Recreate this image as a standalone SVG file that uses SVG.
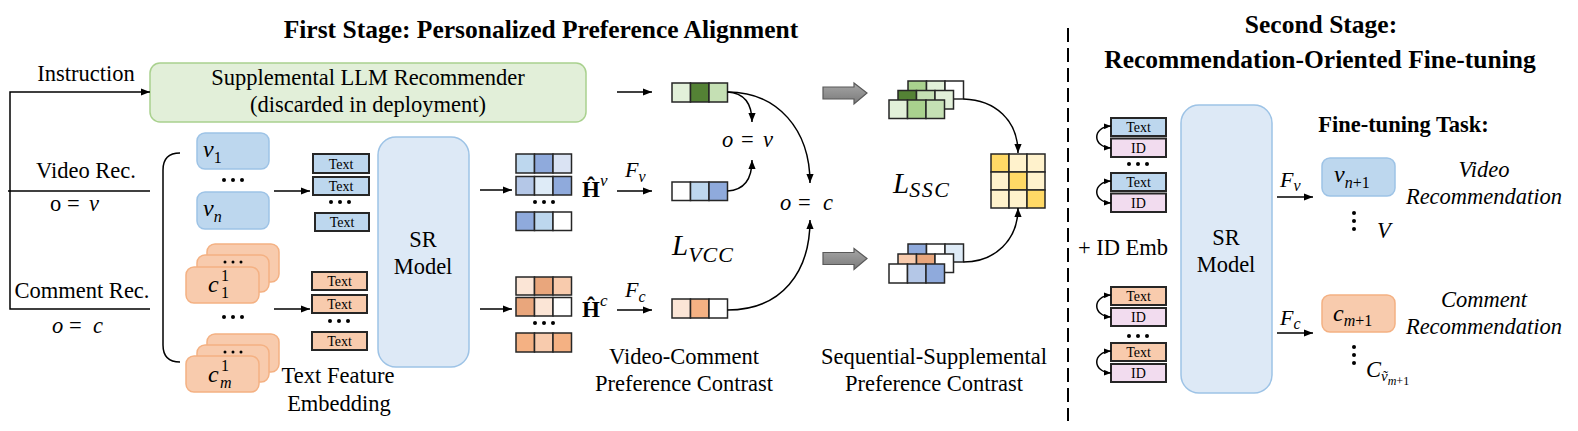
<svg xmlns="http://www.w3.org/2000/svg" width="1578" height="431" viewBox="0 0 1578 431">
<defs>
<marker id="ah" viewBox="0 0 10 8" refX="10" refY="4" markerWidth="9" markerHeight="7.5" markerUnits="userSpaceOnUse" orient="auto-start-reverse"><path d="M0,0 L10,4 L0,8 z" fill="#000"/></marker>
<marker id="ahs" viewBox="0 0 10 8" refX="10" refY="4" markerWidth="7" markerHeight="6" markerUnits="userSpaceOnUse" orient="auto-start-reverse"><path d="M0,0 L10,4 L0,8 z" fill="#000"/></marker>
<linearGradient id="gray" x1="0" y1="0" x2="0" y2="1"><stop offset="0" stop-color="#a6a6a6"/><stop offset="1" stop-color="#7a7a7a"/></linearGradient>
</defs>
<style>
text{font-family:"Liberation Serif","Times New Roman",serif;fill:#000}
.t22{font-size:22.5px}
.m24{font-size:24px;font-style:italic}
.ttl{font-size:25.5px;font-weight:bold}
.it{font-style:italic}
.c{text-anchor:middle}
.sm{font-size:14px}
.ln{fill:none;stroke:#000;stroke-width:1.5}
.cell{stroke:#262626;stroke-width:1.5}
.tb{stroke:#262626;stroke-width:2}
.vbox{fill:#bdd7ee;stroke:#9dc3e6;stroke-width:1.5}
.cbox{fill:#f8cbad;stroke:#f4b183;stroke-width:1.5}
.sr{fill:#dde9f6;stroke:#9dc3e6;stroke-width:1.5}
.llm{fill:#e2efd9;stroke:#a9d18e;stroke-width:1.5}
.blk{fill:url(#gray);stroke:#595959;stroke-width:1.2}
.dot{fill:#000}
.b1{fill:#bdd7ee}.b2{fill:#8faadc}.b3{fill:#deebf7}.b4{fill:#b4c7e7}
.o1{fill:#fbe5d6}.o2{fill:#f4b183}.o3{fill:#f8cbad}.o4{fill:#e9a67c}
.g1{fill:#e2f0d9}.g2{fill:#548235}.g3{fill:#c5e0b4}.g4{fill:#a9d18e}
.w{fill:#ffffff}.y1{fill:#ffd966}.y2{fill:#fff2cc}
.pk{fill:#f2dcef}
</style>

<g id="titles">
<text x="541" y="38" class="ttl c">First Stage: Personalized Preference Alignment</text>
<text x="1321" y="33" class="ttl c">Second Stage:</text>
<text x="1320" y="68" class="ttl c">Recommendation-Oriented Fine-tuning</text>
</g>

<g id="divider">
<path d="M1068,28 V421" fill="none" stroke="#000" stroke-width="2" stroke-dasharray="14 6"/>
</g>

<g id="inputs">
<text x="86" y="81" class="t22 c">Instruction</text>
<text x="86" y="178" class="t22 c">Video Rec.</text>
<text y="211" class="t22"><tspan x="50">o</tspan><tspan x="67">=</tspan><tspan x="89" class="it">v</tspan></text>
<text x="82" y="298" class="t22 c">Comment Rec.</text>
<text y="333" class="t22 it"><tspan x="52">o</tspan><tspan x="69" font-style="normal">=</tspan><tspan x="93">c</tspan></text>
</g>

<g id="llm">
<rect x="150" y="63" width="436" height="59" rx="10" class="llm"/>
<text x="368" y="85" class="t22 c">Supplemental LLM Recommender</text>
<text x="368" y="112" class="t22 c">(discarded in deployment)</text>
</g>

<g id="items">
<path d="M180,153 Q163,153 163,170 L163,345 Q163,362 180,362" class="ln"/>
<rect x="197" y="133" width="72" height="36" rx="8" class="vbox"/>
<text x="203" y="157" class="m24">v<tspan font-size="16" dy="6" font-style="normal">1</tspan></text>
<circle cx="224" cy="180" r="2" class="dot"/><circle cx="233" cy="180" r="2" class="dot"/><circle cx="242" cy="180" r="2" class="dot"/>
<rect x="197" y="192" width="72" height="37" rx="8" class="vbox"/>
<text x="203" y="216" class="m24">v<tspan font-size="16" dy="6">n</tspan></text>

<rect x="207" y="244" width="72" height="38" rx="8" class="cbox"/>
<rect x="197" y="255" width="72" height="37" rx="8" class="cbox"/>
<circle cx="225" cy="262" r="1.5" class="dot"/><circle cx="233" cy="262" r="1.5" class="dot"/><circle cx="241" cy="262" r="1.5" class="dot"/>
<rect x="186" y="267" width="73" height="36" rx="8" class="cbox"/>
<text x="208" y="292" class="m24">c</text>
<text x="221" y="281" font-size="16">1</text>
<text x="221" y="298" font-size="16">1</text>
<circle cx="224" cy="317" r="2" class="dot"/><circle cx="233" cy="317" r="2" class="dot"/><circle cx="242" cy="317" r="2" class="dot"/>
<rect x="207" y="334" width="72" height="38" rx="8" class="cbox"/>
<rect x="197" y="345" width="72" height="37" rx="8" class="cbox"/>
<circle cx="225" cy="352" r="1.5" class="dot"/><circle cx="233" cy="352" r="1.5" class="dot"/><circle cx="241" cy="352" r="1.5" class="dot"/>
<rect x="186" y="356" width="73" height="36" rx="8" class="cbox"/>
<text x="208" y="382" class="m24">c</text>
<text x="221" y="371" font-size="16">1</text>
<text x="220" y="388" font-size="16" class="it">m</text>
</g>

<g id="text-embedding">
<rect x="313" y="154" width="56" height="19" class="tb b1"/><text x="341" y="169" class="sm c">Text</text>
<rect x="313" y="177" width="56" height="18" class="tb b1"/><text x="341" y="191" class="sm c">Text</text>
<circle cx="331" cy="202" r="2" class="dot"/><circle cx="340" cy="202" r="2" class="dot"/><circle cx="349" cy="202" r="2" class="dot"/>
<rect x="315" y="213" width="54" height="18" class="tb b1"/><text x="342" y="227" class="sm c">Text</text>
<rect x="312" y="272" width="55" height="18" class="tb o3"/><text x="339.5" y="286" class="sm c">Text</text>
<rect x="312" y="295" width="55" height="18" class="tb o3"/><text x="339.5" y="309" class="sm c">Text</text>
<circle cx="330" cy="321" r="2" class="dot"/><circle cx="339" cy="321" r="2" class="dot"/><circle cx="348" cy="321" r="2" class="dot"/>
<rect x="312" y="332" width="55" height="18" class="tb o3"/><text x="339.5" y="346" class="sm c">Text</text>
<text x="338" y="383" class="t22 c">Text Feature</text>
<text x="339" y="411" class="t22 c">Embedding</text>
</g>

<g id="sr-model-1">
<rect x="378" y="137" width="91" height="230" rx="18" class="sr"/>
<text x="423" y="247" class="t22 c">SR</text>
<text x="423" y="274" class="t22 c">Model</text>
</g>

<g id="seq-emb">
<rect x="516" y="154" width="18.5" height="19" class="cell b1"/><rect x="534.5" y="154" width="18.5" height="19" class="cell b2"/><rect x="553" y="154" width="18.5" height="19" class="cell" fill="#dae3f3"/>
<rect x="516" y="176.5" width="18.5" height="18.5" class="cell b4"/><rect x="534.5" y="176.5" width="18.5" height="18.5" class="cell b3"/><rect x="553" y="176.5" width="18.5" height="18.5" class="cell b2"/>
<circle cx="535" cy="202" r="2" class="dot"/><circle cx="544" cy="202" r="2" class="dot"/><circle cx="553" cy="202" r="2" class="dot"/>
<rect x="516" y="212" width="18.5" height="18.5" class="cell b2"/><rect x="534.5" y="212" width="18.5" height="18.5" class="cell b1"/><rect x="553" y="212" width="18.5" height="18.5" class="cell w"/>
<rect x="516" y="277" width="18.5" height="18" class="cell o1"/><rect x="534.5" y="277" width="18.5" height="18" class="cell o4"/><rect x="553" y="277" width="18.5" height="18" class="cell o3"/>
<rect x="516" y="297.5" width="18.5" height="18.5" class="cell o4"/><rect x="534.5" y="297.5" width="18.5" height="18.5" class="cell o1"/><rect x="553" y="297.5" width="18.5" height="18.5" class="cell w"/>
<circle cx="535" cy="323" r="2" class="dot"/><circle cx="544" cy="323" r="2" class="dot"/><circle cx="553" cy="323" r="2" class="dot"/>
<rect x="516" y="333" width="18.5" height="19" class="cell o2"/><rect x="534.5" y="333" width="18.5" height="19" class="cell o3"/><rect x="553" y="333" width="18.5" height="19" class="cell o2"/>
<text x="582" y="197" font-size="23" font-weight="bold">Ĥ<tspan dy="-11" font-size="17" font-weight="normal" font-style="italic">v</tspan></text>
<text x="582" y="317" font-size="23" font-weight="bold">Ĥ<tspan dy="-11" font-size="17" font-weight="normal" font-style="italic">c</tspan></text>
</g>

<g id="pref-emb">
<rect x="672" y="83" width="18.5" height="19" class="cell g1"/><rect x="690.5" y="83" width="18.5" height="19" class="cell g2"/><rect x="709" y="83" width="18.5" height="19" class="cell g3"/>
<rect x="672" y="182" width="18.5" height="18.5" class="cell w"/><rect x="690.5" y="182" width="18.5" height="18.5" class="cell b1"/><rect x="709" y="182" width="18.5" height="18.5" class="cell b2"/>
<rect x="672" y="299" width="18.5" height="19" class="cell o1"/><rect x="690.5" y="299" width="18.5" height="19" class="cell o2"/><rect x="709" y="299" width="18.5" height="19" class="cell w"/>
<text x="625" y="177" font-size="22" class="it">F<tspan font-size="16" dy="5">v</tspan></text>
<text x="625" y="297" font-size="22" class="it">F<tspan font-size="16" dy="5">c</tspan></text>
<text y="147" class="t22"><tspan x="722" class="it">o</tspan><tspan x="741">=</tspan><tspan x="763" class="it">v</tspan></text>
<text y="210" class="t22 it"><tspan x="780">o</tspan><tspan x="798" font-style="normal">=</tspan><tspan x="823">c</tspan></text>
<text x="672" y="255" font-size="29" class="it">L<tspan font-size="22" dy="7" letter-spacing="1">VCC</tspan></text>
<text x="684" y="364" class="t22 c">Video-Comment</text>
<text x="684" y="391" class="t22 c">Preference Contrast</text>
</g>

<g id="block-arrows">
<polygon points="823,87 854,87 854,83 867,93 854,104 854,99 823,99" class="blk"/>
<polygon points="823,252.5 854,252.5 854,248.5 867,258.5 854,269.5 854,264.5 823,264.5" class="blk"/>
</g>

<g id="stack-green">
<rect x="908" y="81" width="18.5" height="18" class="cell g4"/><rect x="926.5" y="81" width="18.5" height="18" class="cell g1"/><rect x="945" y="81" width="18.5" height="18" class="cell w"/>
<rect x="898" y="90.5" width="18.5" height="18.5" class="cell g2"/><rect x="916.5" y="90.5" width="18.5" height="18.5" class="cell g3"/><rect x="935" y="90.5" width="18.5" height="18.5" class="cell g1"/>
<rect x="889" y="100" width="18.5" height="18.5" class="cell g1"/><rect x="907.5" y="100" width="18.5" height="18.5" class="cell g4"/><rect x="926" y="100" width="18.5" height="18.5" class="cell g3"/>
</g>

<g id="stack-mixed">
<rect x="908" y="244" width="18.5" height="18" class="cell b2"/><rect x="926.5" y="244" width="18.5" height="18" class="cell w"/><rect x="945" y="244" width="18.5" height="18" class="cell b3"/>
<rect x="898" y="254" width="18.5" height="18.5" class="cell o3"/><rect x="916.5" y="254" width="18.5" height="18.5" class="cell o4"/><rect x="935" y="254" width="18.5" height="18.5" class="cell w"/>
<rect x="889" y="264" width="18.5" height="19" class="cell w"/><rect x="907.5" y="264" width="18.5" height="19" class="cell b4"/><rect x="926" y="264" width="18.5" height="19" class="cell b2"/>
</g>

<g id="ssc">
<rect x="991" y="154" width="18" height="18" class="cell y1"/><rect x="1009" y="154" width="18" height="18" class="cell y2"/><rect x="1027" y="154" width="18" height="18" class="cell y2"/>
<rect x="991" y="172" width="18" height="18" class="cell y2"/><rect x="1009" y="172" width="18" height="18" class="cell y1"/><rect x="1027" y="172" width="18" height="18" class="cell y2"/>
<rect x="991" y="190" width="18" height="18" class="cell y2"/><rect x="1009" y="190" width="18" height="18" class="cell y2"/><rect x="1027" y="190" width="18" height="18" class="cell y1"/>
<text x="893" y="193" font-size="29" class="it">L<tspan font-size="22" dy="4" letter-spacing="1.5">SSC</tspan></text>
<text x="934" y="364" class="t22 c">Sequential-Supplemental</text>
<text x="934" y="391" class="t22 c">Preference Contrast</text>
</g>

<g id="finetune-inputs">
<rect x="1111" y="118" width="55" height="18" class="tb b1"/><text x="1138.5" y="132" class="sm c">Text</text>
<rect x="1111" y="138.5" width="55" height="18.5" class="tb pk"/><text x="1138.5" y="153" class="sm c">ID</text>
<circle cx="1129" cy="164" r="2" class="dot"/><circle cx="1138" cy="164" r="2" class="dot"/><circle cx="1147" cy="164" r="2" class="dot"/>
<rect x="1111" y="173" width="55" height="18" class="tb b1"/><text x="1138.5" y="187" class="sm c">Text</text>
<rect x="1111" y="193.5" width="55" height="18.5" class="tb pk"/><text x="1138.5" y="208" class="sm c">ID</text>
<text x="1123" y="255" class="t22 c">+ ID Emb</text>
<rect x="1111" y="287" width="55" height="18" class="tb o3"/><text x="1138.5" y="301" class="sm c">Text</text>
<rect x="1111" y="308" width="55" height="18" class="tb pk"/><text x="1138.5" y="322" class="sm c">ID</text>
<circle cx="1129" cy="336" r="2" class="dot"/><circle cx="1138" cy="336" r="2" class="dot"/><circle cx="1147" cy="336" r="2" class="dot"/>
<rect x="1111" y="343" width="55" height="18" class="tb o3"/><text x="1138.5" y="357" class="sm c">Text</text>
<rect x="1111" y="364" width="55" height="18" class="tb pk"/><text x="1138.5" y="378" class="sm c">ID</text>
</g>

<g id="sr-model-2">
<rect x="1181" y="105" width="91" height="288" rx="18" class="sr"/>
<text x="1226" y="245" class="t22 c">SR</text>
<text x="1226" y="272" class="t22 c">Model</text>
</g>

<g id="finetune-task">
<text x="1403.5" y="132" font-size="22.5" font-weight="bold" class="c">Fine-tuning Task:</text>
<text x="1280" y="187" font-size="22" class="it">F<tspan font-size="16" dy="4">v</tspan></text>
<text x="1280" y="325" font-size="22" class="it">F<tspan font-size="16" dy="4">c</tspan></text>
<rect x="1322" y="158" width="73" height="38" rx="8" class="vbox"/>
<text x="1334" y="182" class="m24">v<tspan font-size="16" dy="6">n</tspan><tspan font-size="16" font-style="normal">+1</tspan></text>
<circle cx="1354" cy="213" r="2" class="dot"/><circle cx="1354" cy="221" r="2" class="dot"/><circle cx="1354" cy="229" r="2" class="dot"/>
<text x="1377" y="238" class="t22 it">V</text>
<text x="1484" y="177" class="t22 c it">Video</text>
<text x="1484" y="204" class="t22 c it">Recommendation</text>
<rect x="1322" y="295" width="73" height="37" rx="8" class="cbox"/>
<text x="1333" y="321" class="m24">c<tspan font-size="16" dy="5">m</tspan><tspan font-size="16" font-style="normal">+1</tspan></text>
<circle cx="1354" cy="347" r="2" class="dot"/><circle cx="1354" cy="355" r="2" class="dot"/><circle cx="1354" cy="363" r="2" class="dot"/>
<text x="1366" y="377" class="t22 it">C<tspan font-size="15" dy="4">ṽ</tspan><tspan font-size="12" dy="4">m</tspan><tspan font-size="12" font-style="normal">+1</tspan></text>
<text x="1484" y="307" class="t22 c it">Comment</text>
<text x="1484" y="334" class="t22 c it">Recommendation</text>
</g>

<g id="connectors">
<path d="M150,309 H10 V92 H150" class="ln" marker-end="url(#ah)"/>
<path d="M8,191 H150" class="ln"/>
<path d="M274,191 H310" class="ln" marker-end="url(#ah)"/>
<path d="M274,309 H310" class="ln" marker-end="url(#ah)"/>
<path d="M480,190 H512" class="ln" marker-end="url(#ah)"/>
<path d="M480,309 H512" class="ln" marker-end="url(#ah)"/>
<path d="M617,92 H652" class="ln" marker-end="url(#ah)"/>
<path d="M617,191 H652" class="ln" marker-end="url(#ah)"/>
<path d="M617,310 H652" class="ln" marker-end="url(#ah)"/>
<path d="M727.5,92 C745,93 752,105 752,122" class="ln" marker-end="url(#ah)"/>
<path d="M727.5,92 C778,92 810,130 810,183" class="ln" marker-end="url(#ah)"/>
<path d="M727.5,191 C745,190 752,178 752,160" class="ln" marker-end="url(#ah)"/>
<path d="M727.5,310 C782,310 810,272 810,220" class="ln" marker-end="url(#ah)"/>
<path d="M963.5,99 C995,100 1018,120 1018,153" class="ln" marker-end="url(#ah)"/>
<path d="M963.5,262 C995,262 1018,240 1018,208" class="ln" marker-end="url(#ah)"/>
<path d="M1111,126 C1092,127 1092,147 1111,148" class="ln" marker-start="url(#ahs)" marker-end="url(#ahs)"/>
<path d="M1111,181 C1092,182 1092,202 1111,203" class="ln" marker-start="url(#ahs)" marker-end="url(#ahs)"/>
<path d="M1111,295 C1092,296 1092,316 1111,317" class="ln" marker-start="url(#ahs)" marker-end="url(#ahs)"/>
<path d="M1111,351 C1092,352 1092,372 1111,373" class="ln" marker-start="url(#ahs)" marker-end="url(#ahs)"/>
<path d="M1277,197 H1313" class="ln" marker-end="url(#ah)"/>
<path d="M1277,333 H1313" class="ln" marker-end="url(#ah)"/>
</g>
</svg>
